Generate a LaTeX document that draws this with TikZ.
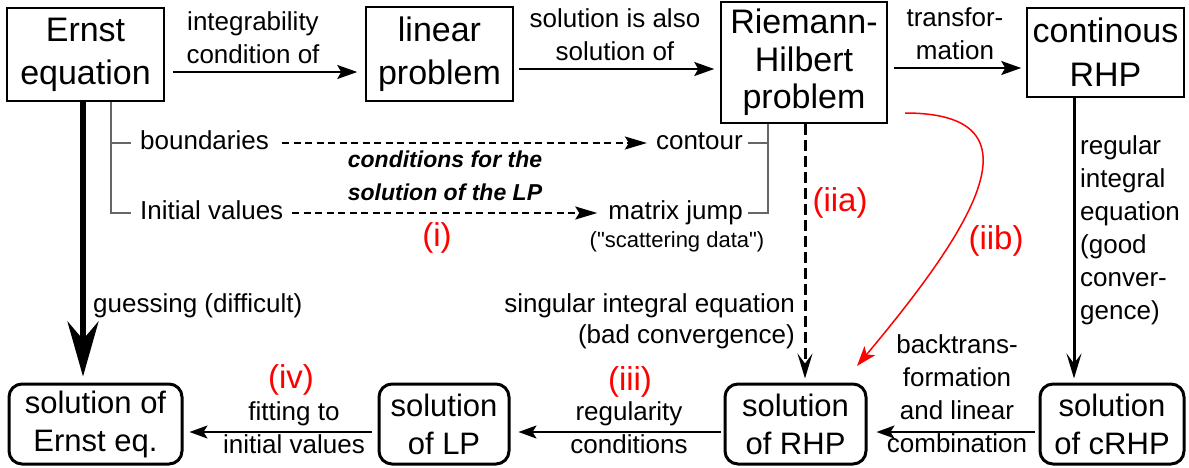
\documentclass[tikz,border=0pt]{standalone}
\usepackage{fontspec}
\setmainfont{Liberation Sans}
\usetikzlibrary{arrows.meta}
\begin{document}
\begin{tikzpicture}[x=1pt,y=-1pt,
  big/.style={font=\fontsize{34}{43}\selectfont},
  sml/.style={font=\fontsize{26}{33}\selectfont},
  topbox/.style={draw, line width=1.5pt, inner sep=0pt, align=center, big},
  botbox/.style={draw, line width=3pt, rounded corners=13pt, inner sep=0pt, align=center, font=\fontsize{31}{38}\selectfont},
  lab/.style={sml, inner sep=0pt, align=center},
  treelab/.style={sml, inner sep=0pt, text height=13.5pt, text depth=0pt},
  redlab/.style={text=red, font=\fontsize{33}{40}\selectfont, inner sep=0pt},
  arr/.style={line width=2pt, -{Stealth[length=20pt,width=14pt,inset=4pt]}},
  arrb/.style={line width=2pt, -{Stealth[length=18pt,width=13pt,inset=4pt]}},
  thickarr/.style={line width=6pt, -{Stealth[length=55pt,width=31pt,inset=18pt]}},
  medarr/.style={line width=3pt, -{Stealth[length=25pt,width=15pt,inset=10pt]}},
  dasharr/.style={medarr, dash pattern=on 11pt off 5pt},
  darr/.style={line width=1.6pt, dash pattern=on 7pt off 4.5pt, -{Stealth[length=22pt,width=13pt,inset=4pt]}},
  tree/.style={line width=1.5pt, black!60},
  redarr/.style={red, line width=1.5pt, -{Stealth[length=20pt,width=14pt,inset=5pt]}}
]
\useasboundingbox (0,0) rectangle (1189,467);

% top boxes
\node[topbox, minimum width=157pt, minimum height=93pt] (ernst) at (85.5,54.5) {Ernst\\equation};
\node[topbox, minimum width=147pt, minimum height=94pt] (linear) at (439.5,54) {linear\\problem};
\node[topbox, minimum width=166pt, minimum height=121pt, font=\fontsize{34}{37.5}\selectfont] (rh) at (804,62.5) {Riemann-\\Hilbert\\problem};
\node[topbox, minimum width=157pt, minimum height=89pt, font=\fontsize{34}{44}\selectfont] (cont) at (1105.5,52.5) {continous\\RHP};

% bottom boxes
\node[botbox, minimum width=173pt, minimum height=80pt] (solE) at (95.5,424) {solution of\\Ernst eq.};
\node[botbox, minimum width=130pt, minimum height=80pt] (solLP) at (444,424) {solution\\of LP};
\node[botbox, minimum width=141pt, minimum height=80pt] (solRHP) at (795.5,424) {solution\\of RHP};
\node[botbox, minimum width=144pt, minimum height=80pt] (solC) at (1112,424) {solution\\of cRHP};

% top arrows
\draw[arr, shorten <=8pt, shorten >=8pt] ([yshift=-17.5pt]ernst.east) -- ([yshift=-17.5pt]ernst.east -| linear.west);
\draw[arr, shorten <=5pt, shorten >=6pt] ([yshift=-15pt]linear.east) -- ([yshift=-15pt]linear.east -| rh.west);
\draw[arr, shorten <=6pt, shorten >=5pt] ([yshift=-5.5pt]rh.east) -- ([yshift=-5.5pt]rh.east -| cont.west);

\node[lab] (l1) at (253,37.7) {integrability\\condition of};
\node[lab] (l2) at (615,35.2) {solution is also\\solution of};
\node[lab] (l3) at (955,34.2) {transfor-\\mation};

% vertical arrows
\draw[thickarr, shorten >=6pt] ([xshift=-2.5pt]ernst.south) -- ([xshift=-2.5pt]ernst.south |- solE.north);
\draw[dasharr, shorten >=4pt] ([xshift=1pt]rh.south) -- ([xshift=1pt]rh.south |- solRHP.north);
\draw[medarr, shorten >=4pt] ([xshift=-31.5pt]cont.south) -- ([xshift=-31.5pt]cont.south |- solC.north);

\node[sml, anchor=base west, inner sep=0pt] (l9) at (93,312) {guessing (difficult)};
\node[lab, align=right, anchor=east, font=\fontsize{26}{31}\selectfont] (l8) at (795,321) {singular integral equation\\(bad convergence)};
\node[lab, align=left, anchor=west] (l4) at (1080,230) {regular\\integral\\equation\\(good\\conver-\\gence)};

% bottom arrows
\draw[arrb, shorten <=4pt, shorten >=9pt] ([yshift=-8pt]solC.west) -- ([yshift=-8pt]solC.west -| solRHP.east);
\draw[arrb, shorten <=3pt, shorten >=8pt] ([yshift=-8pt]solRHP.west) -- ([yshift=-8pt]solRHP.west -| solLP.east);
\draw[arrb, shorten <=6pt, shorten >=6pt] ([yshift=-8pt]solLP.west) -- ([yshift=-8pt]solLP.west -| solE.east);

\node[lab] (l5) at (957,393.7) {backtrans-\\formation\\and linear\\combination};
\node[lab] (l6) at (629,427.2) {regularity\\conditions};
\node[lab] (l7) at (294,427.2) {fitting to\\initial values};

% conditions trees
\node[treelab, anchor=west] (bnd) at (140,143) {boundaries};
\node[treelab, anchor=west] (init) at (140,213) {Initial values};
\node[treelab, anchor=east] (cnt) at (743,143) {contour};
\node[treelab, anchor=east] (mjump) at (743,213) {matrix jump};
\coordinate (t) at (111,0);
\coordinate (u) at (768,0);
\draw[tree] (ernst.south -| t) |- ([xshift=-9pt]init.west);
\draw[tree] (t |- bnd.west) -- ([xshift=-9pt]bnd.west);
\draw[tree] (rh.south -| u) |- ([xshift=5pt]mjump.east);
\draw[tree] (u |- cnt.east) -- ([xshift=5pt]cnt.east);
\draw[darr] ([xshift=13pt]bnd.east) -- ([xshift=-9pt]cnt.west);
\draw[darr] ([xshift=9pt]init.east) -- ([xshift=-11pt]mjump.west);

\node[font=\fontsize{23}{33}\selectfont\bfseries\itshape, align=center, inner sep=0pt] (l10) at (445,176) {conditions for the\\solution of the LP};
\node[font=\fontsize{22}{26}\selectfont, anchor=base, inner sep=0pt] (l11) at (677,247) {(\textquotedbl scattering data\textquotedbl)};

% red
\coordinate (rs) at (905,113);
\coordinate (re) at (857,366);
\draw[redarr] (rs) .. controls (1045,113) and (975,225) .. (re);
\node[redlab] (r1) at (437,238) {(i)};
\node[redlab] (r2) at (840,203) {(iia)};
\node[redlab] (r3) at (996,241) {(iib)};
\node[redlab] (r4) at (630,382) {(iii)};
\node[redlab] (r5) at (291,380) {(iv)};
\end{tikzpicture}
\end{document}
